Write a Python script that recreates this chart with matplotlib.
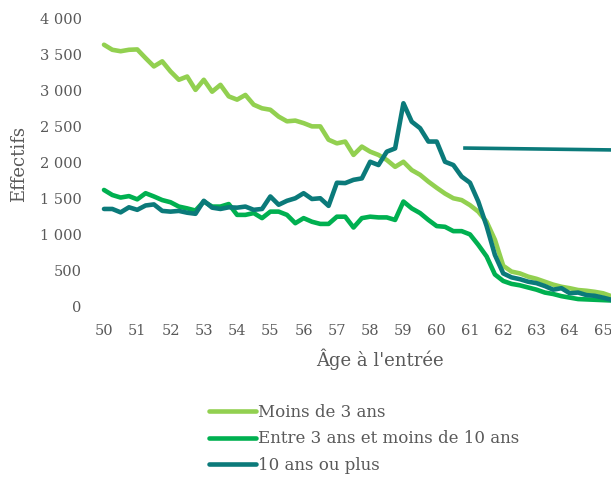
import numpy as np
import matplotlib
matplotlib.use('Agg')
import matplotlib.pyplot as plt
from matplotlib.ticker import FuncFormatter

# quarterly ages from 50 to 65.5
ages = [50 + i / 4 for i in range(63)]

moins_3 = [3630, 3560, 3540, 3560, 3565, 3445, 3330, 3400, 3260, 3145,
           3190, 3005, 3145, 2980, 3075, 2915, 2870, 2935, 2800, 2750,
           2730, 2635, 2570, 2580, 2545, 2500, 2500, 2315, 2265, 2290,
           2105, 2220, 2150, 2105, 2035, 1940, 2010, 1895, 1830, 1735,
           1650, 1570, 1505, 1480, 1410, 1320, 1180, 930, 570, 490,
           465, 420, 390, 350, 310, 280, 260, 235, 225, 210,
           190, 150, 140]

entre_3_10 = [1620, 1550, 1515, 1535, 1490, 1575, 1530, 1480, 1450, 1390,
              1365, 1335, 1460, 1390, 1390, 1425, 1275, 1275, 1300, 1230,
              1320, 1320, 1275, 1160, 1230, 1180, 1150, 1150, 1250, 1250,
              1100, 1230, 1250, 1240, 1240, 1205, 1460, 1365, 1300, 1205,
              1120, 1110, 1050, 1050, 1005, 860, 700, 450, 360, 320,
              300, 270, 240, 200, 180, 150, 130, 110, 105, 100,
              95, 90, 85]

plus_10 = [1357, 1357, 1310, 1380, 1345, 1405, 1420, 1330, 1320, 1330,
           1305, 1290, 1470, 1375, 1357, 1380, 1375, 1390, 1345, 1357,
           1530, 1415, 1470, 1505, 1575, 1495, 1505, 1400, 1720, 1715,
           1760, 1780, 2010, 1965, 2150, 2195, 2820, 2565, 2475, 2290,
           2290, 2010, 1965, 1805, 1720, 1460, 1120, 720, 465, 410,
           385, 350, 330, 290, 240, 260, 190, 200, 165, 155,
           130, 100, 95]

# cut-off connector line visible on the right
ref_x = [60.85, 65.6]
ref_y = [2200, 2172]

labels = ['Moins de 3 ans', 'Entre 3 ans et moins de 10 ans', '10 ans ou plus']
colors = ['#92D050', '#00B050', '#0B7A7A']
grey = '#595959'

plt.rcParams['font.family'] = ['DejaVu Serif']

fig = plt.figure(figsize=(6.11, 4.78), dpi=100)
ax = fig.add_axes([104 / 611, (478 - 307) / 478, 1 - 104 / 611, (307 - 18) / 478])

for ys, lab, c in zip([moins_3, entre_3_10, plus_10], labels, colors):
    ax.plot(ages, ys, color=c, lw=3.3, label=lab, clip_on=False,
            solid_joinstyle='round', solid_capstyle='round')

ax.plot(ref_x, ref_y, color=colors[2], lw=2.6, clip_on=False)

ax.set_xlim(50, 50 + (611 - 104) / 33.27)
ax.set_ylim(0, 4000)
ax.set_xticks(range(50, 66))
ax.set_yticks(range(0, 4001, 500))
ax.yaxis.set_major_formatter(FuncFormatter(lambda v, p: '{:,.0f}'.format(v).replace(',', ' ')))

for s in ax.spines.values():
    s.set_visible(False)
ax.tick_params(length=0, labelsize=10.5, colors=grey)
ax.tick_params(axis='x', pad=12)
ax.tick_params(axis='y', pad=16)

ax.set_xlabel("Âge à l'entrée", fontsize=13, color=grey, va='top')
ax.xaxis.set_label_coords((380 - 104) / 507, (307 - 349) / 289)
ax.set_ylabel('Effectifs', fontsize=13, color=grey)
ax.yaxis.set_label_coords((28 - 104) / 507, (307 - 164) / 289)

leg = fig.legend(loc='upper left', bbox_to_anchor=(209 / 611, 1 - 404 / 478),
                 frameon=False, fontsize=12, handlelength=2.8, handletextpad=0.15,
                 labelspacing=0.56, labelcolor=grey, borderaxespad=0, borderpad=0)

fig.savefig('out.png', dpi=100)
